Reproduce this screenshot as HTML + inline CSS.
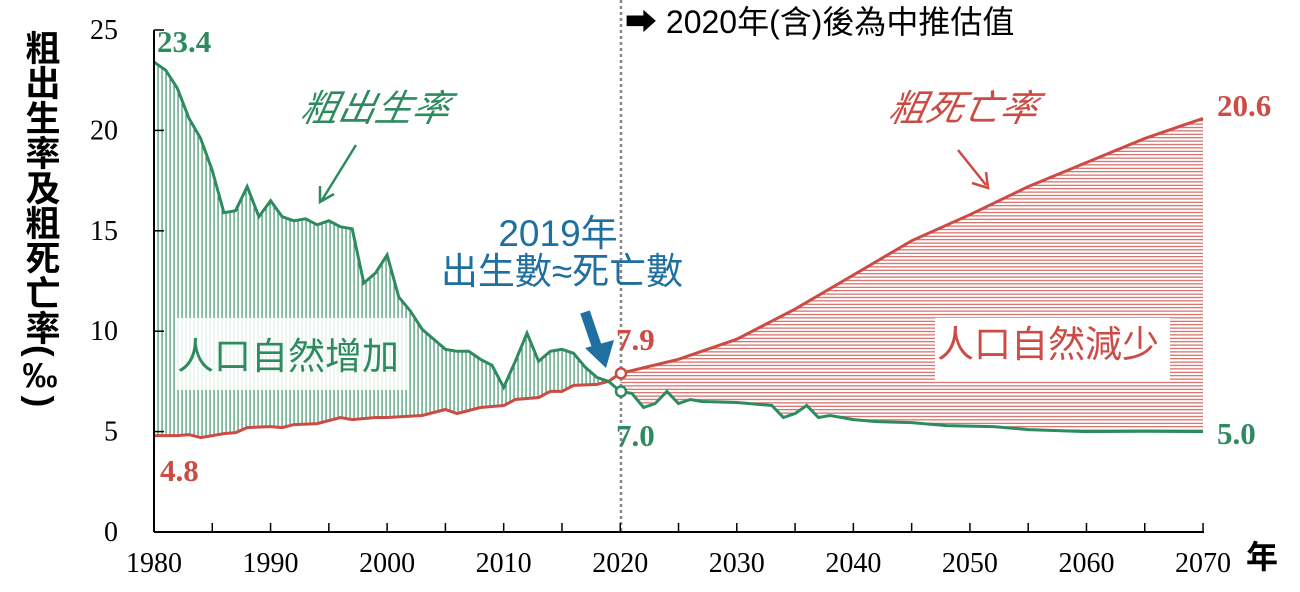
<!DOCTYPE html>
<html><head><meta charset="utf-8"><style>
body{margin:0;background:#fff;width:1300px;height:592px;overflow:hidden}
svg{display:block}
.s{font-family:"Liberation Serif",serif}
.c{font-family:"Liberation Sans","Noto Sans CJK TC",sans-serif}
</style></head><body>
<svg id="g" width="1300" height="592" viewBox="0 0 1300 592" xmlns="http://www.w3.org/2000/svg">
<defs>
<pattern id="pv" width="4" height="10" patternUnits="userSpaceOnUse"><rect x="1.5" y="0" width="1.1" height="10" fill="#2e8b5f"/></pattern>
<pattern id="ph" width="10" height="3.4" patternUnits="userSpaceOnUse"><rect x="0" y="1.2" width="10" height="1" fill="#cc4b44"/></pattern>
</defs>
</svg>
<script>
const X=y=>154+(y-1980)*11.656, Y=v=>532-20.08*v;
const B={1980:23.4,1981:23.0,1982:22.1,1983:20.6,1984:19.6,1985:18.0,1986:15.9,1987:16.0,1988:17.2,1989:15.7,1990:16.5,1991:15.7,1992:15.5,1993:15.6,1994:15.3,1995:15.5,1996:15.2,1997:15.1,1998:12.4,1999:12.9,2000:13.8,2001:11.7,2002:11.0,2003:10.1,2004:9.6,2005:9.1,2006:9.0,2007:9.0,2008:8.6,2009:8.3,2010:7.2,2011:8.5,2012:9.9,2013:8.5,2014:9.0,2015:9.1,2016:8.9,2017:8.2,2018:7.7,2019:7.5,2020:7.0,2021:6.9,2022:6.2,2023:6.4,2024:7.0,2025:6.4,2026:6.6,2027:6.5,2030:6.45,2033:6.3,2034:5.7,2035:5.9,2036:6.3,2037:5.7,2038:5.8,2039:5.7,2040:5.6,2042:5.5,2045:5.45,2048:5.3,2052:5.25,2055:5.1,2060:5.0,2065:5.02,2070:5.0};
const D={1980:4.8,1982:4.8,1983:4.85,1984:4.7,1986:4.9,1987:4.95,1988:5.2,1990:5.25,1991:5.2,1992:5.35,1994:5.4,1996:5.7,1997:5.6,1999:5.7,2000:5.7,2003:5.8,2005:6.1,2006:5.9,2008:6.2,2010:6.3,2011:6.6,2013:6.7,2014:7.0,2015:7.0,2016:7.3,2018:7.35,2019:7.5,2020:7.9,2025:8.6,2030:9.6,2035:11.1,2040:12.8,2045:14.5,2050:15.8,2055:17.2,2060:18.4,2065:19.6,2070:20.6};
const pts=(o,a,b)=>Object.keys(o).map(Number).filter(k=>k>=a&&k<=b).map(k=>[X(k),Y(o[k])]);
const s=a=>a.map(p=>p[0].toFixed(1)+","+p[1].toFixed(1)).join(" ");
let h='';
const b1=pts(B,1980,2019),d1=pts(D,1980,2019),b2=pts(B,2020,2070),d2=pts(D,2020,2070);
h+=`<polygon points="${s(b1.concat([[X(2019.2),Y(7.5)]],d1.slice().reverse()))}" fill="url(#pv)"/>`;
h+=`<polygon points="${s(d2.concat(b2.slice().reverse()))}" fill="url(#ph)"/>`;
h+=`<rect x="175" y="318" width="232" height="72" fill="#fff" opacity="0.85"/><rect x="935" y="318" width="235" height="62" fill="#fff"/>`;
h+=`<line x1="621" y1="0" x2="621" y2="532" stroke="#888" stroke-width="2.5" stroke-dasharray="3,3"/>`;
h+=`<polyline points="${s(pts(D,1980,2070))}" fill="none" stroke="#cc4b44" stroke-width="3"/>`;
h+=`<polyline points="${s(pts(B,1980,2070))}" fill="none" stroke="#2e8b5f" stroke-width="3"/>`;
h+=`<circle cx="621" cy="${Y(7.9)}" r="5" fill="#fff" stroke="#cc4b44" stroke-width="2.5"/><circle cx="621" cy="${Y(7.0)}" r="5" fill="#fff" stroke="#2e8b5f" stroke-width="2.5"/>`;
h+=`<line x1="154" y1="30" x2="154" y2="532" stroke="#000" stroke-width="2"/><line x1="154" y1="532" x2="1204" y2="532" stroke="#000" stroke-width="2"/>`;
for(let v=0;v<=25;v+=5){h+=`<line x1="154" y1="${Y(v)}" x2="164" y2="${Y(v)}" stroke="#000" stroke-width="1.5"/><text class="s" x="118" y="${Y(v)+9}" font-size="28" text-anchor="end">${v}</text>`;}
for(let yr=1980;yr<=2070;yr+=5){h+=`<line x1="${X(yr)}" y1="532" x2="${X(yr)}" y2="523" stroke="#000" stroke-width="1.5"/>`;if(yr%10==0)h+=`<text class="s" x="${X(yr)}" y="572" font-size="28" text-anchor="middle">${yr}</text>`;}
h+=`<text class="c" x="1262" y="568" font-size="32" text-anchor="middle" font-weight="bold">年</text>`;
h+=`<text class="c" font-size="35" font-weight="bold" style="writing-mode:vertical-rl" x="40" y="30">粗出生率及粗死亡率(‰)</text>`;
h+=`<text class="c" x="625" y="33" font-size="32">➡ 2020年(含)後為中推估值</text>`;
h+=`<g class="s" font-weight="bold" font-size="31"><text x="157" y="52" fill="#2e8b5f">23.4</text><text x="160" y="481" fill="#cc4b44">4.8</text><text x="616" y="350" fill="#cc4b44">7.9</text><text x="616" y="446" fill="#2e8b5f">7.0</text><text x="1217" y="116" fill="#cc4b44">20.6</text><text x="1217" y="444" fill="#2e8b5f">5.0</text></g>`;
h+=`<g class="c" font-size="37" font-style="italic"><text x="300" y="121" fill="#2e8b5f" transform="skewX(-12) translate(25,0)">粗出生率</text><text x="888" y="121" fill="#cc4b44" transform="skewX(-12) translate(25,0)">粗死亡率</text></g>`;
h+=`<line x1="356" y1="145" x2="322" y2="200" stroke="#2e8b5f" stroke-width="2.5"/><polyline points="320,186 320,202 334,194" fill="none" stroke="#2e8b5f" stroke-width="2.5"/>`;
h+=`<line x1="958" y1="150" x2="986" y2="185" stroke="#cc4b44" stroke-width="2.5"/><polyline points="972,183 988,188 986,172" fill="none" stroke="#cc4b44" stroke-width="2.5"/>`;
h+=`<text class="c" x="177" y="369" font-size="37" fill="#2e8b5f">人口自然增加</text><text class="c" x="937" y="357" font-size="37" fill="#cc4b44">人口自然減少</text>`;
h+=`<g class="c" fill="#1f6fa0"><text x="558" y="246" font-size="37" text-anchor="middle">2019年</text><text x="562" y="284" font-size="37" text-anchor="middle">出生數≈死亡數</text></g>`;
h+=`<line x1="585" y1="312" x2="598" y2="350" stroke="#1f6fa0" stroke-width="10"/><polygon points="585,348 614,340 606,368" fill="#1f6fa0"/>`;
document.getElementById('g').insertAdjacentHTML('beforeend',h);
</script>
</body></html>
